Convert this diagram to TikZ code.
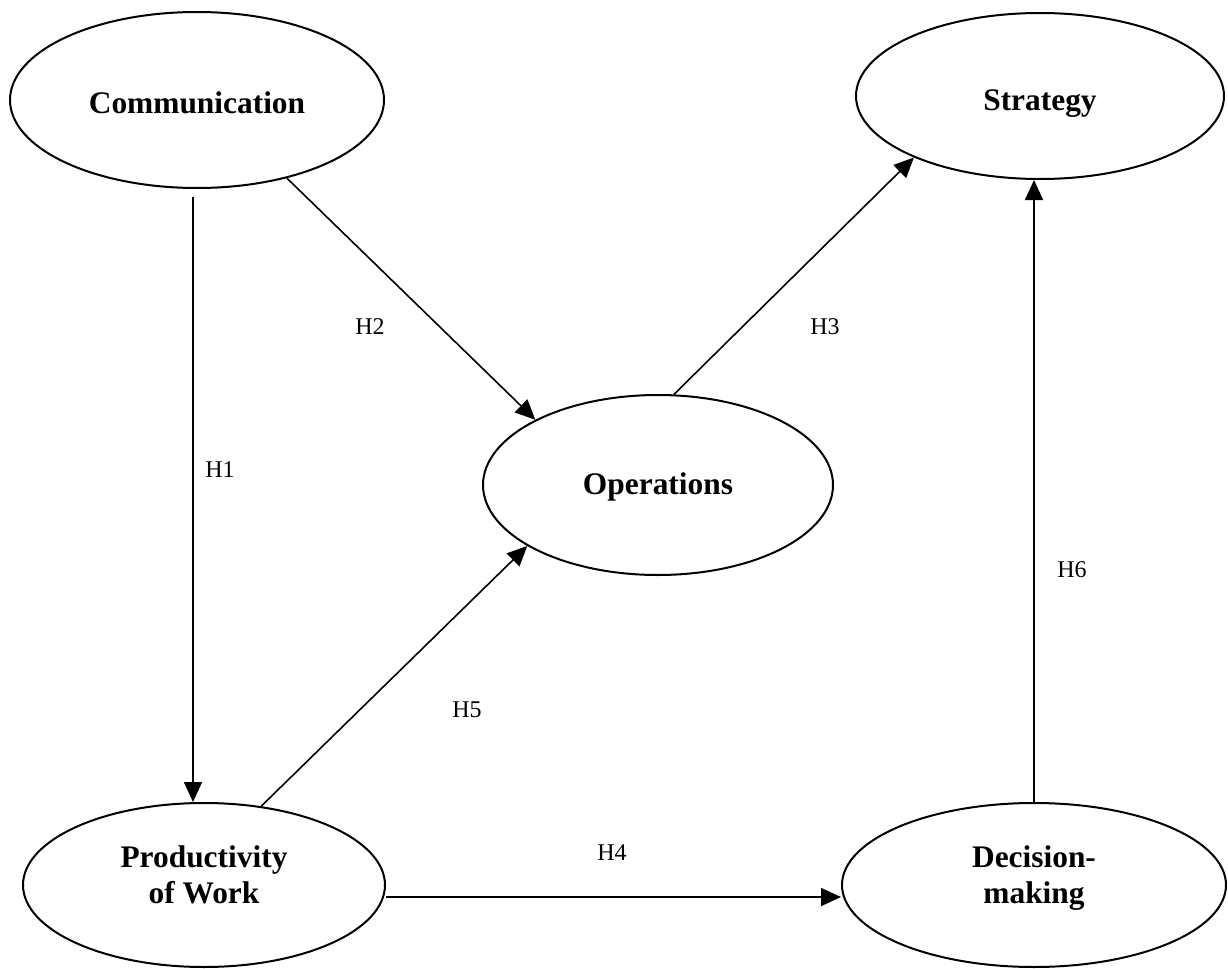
\documentclass[tikz,border=0pt]{standalone}
\usepackage{fontspec}
\setmainfont{Liberation Serif}
\usetikzlibrary{shapes.geometric,arrows.meta}
\newcommand\liftby[2]{\raisebox{#1}[\height][\depth]{#2}}
\begin{document}
\begin{tikzpicture}[x=0.5pt,y=-0.5pt,
  var/.style={ellipse, draw, line width=1pt, inner sep=0pt, align=center,
    font=\fontsize{15.7}{18}\selectfont\bfseries},
  arr/.style={line width=0.8pt, -{Triangle[length=10pt,width=9pt]}},
  lbl/.style={font=\fontsize{12}{14}\selectfont}]
\useasboundingbox[fill=white] (0,0) rectangle (1228,969);
\node[var, minimum width=187pt, minimum height=88pt] (comm) at (197,100) {\liftby{-1.5pt}{Communication}};
\node[var, minimum width=184pt, minimum height=83pt] (strat) at (1040,96) {\liftby{-4pt}{Strategy}};
\node[var, minimum width=175pt, minimum height=90pt] (ops) at (658,485) {\liftby{-1pt}{Operations}};
\node[var, minimum width=181pt, minimum height=82pt] (prod) at (204,885) {\liftby{5pt}{Productivity}\\\liftby{5pt}{of Work}};
\node[var, minimum width=192pt, minimum height=82pt] (dec) at (1034,885) {\liftby{3.5pt}{Decision-}\\\liftby{3.5pt}{making}};

\draw[arr] ([xshift=-2pt,yshift=-4pt]comm.south) -- ([xshift=-2pt]comm.south |- prod.north);
\draw[arr] (comm.-41.6) -- (ops.152.9);
\draw[arr] (ops.80.5) -- (strat.-154.3);
\draw[arr] (prod.54.3) -- (ops.205.1);
\draw[arr] ([yshift=-6pt]prod.east) -- ([yshift=-6pt]dec.west);
\draw[arr] (dec.north) -- (dec.north |- strat.south);

\node[lbl] (h1) at (220,470) {H1};
\node[lbl] (h2) at (370,327) {H2};
\node[lbl] (h3) at (825,327) {H3};
\node[lbl] (h4) at (612,853) {H4};
\node[lbl] (h5) at (467,710) {H5};
\node[lbl] (h6) at (1072,570) {H6};
\end{tikzpicture}
\end{document}
